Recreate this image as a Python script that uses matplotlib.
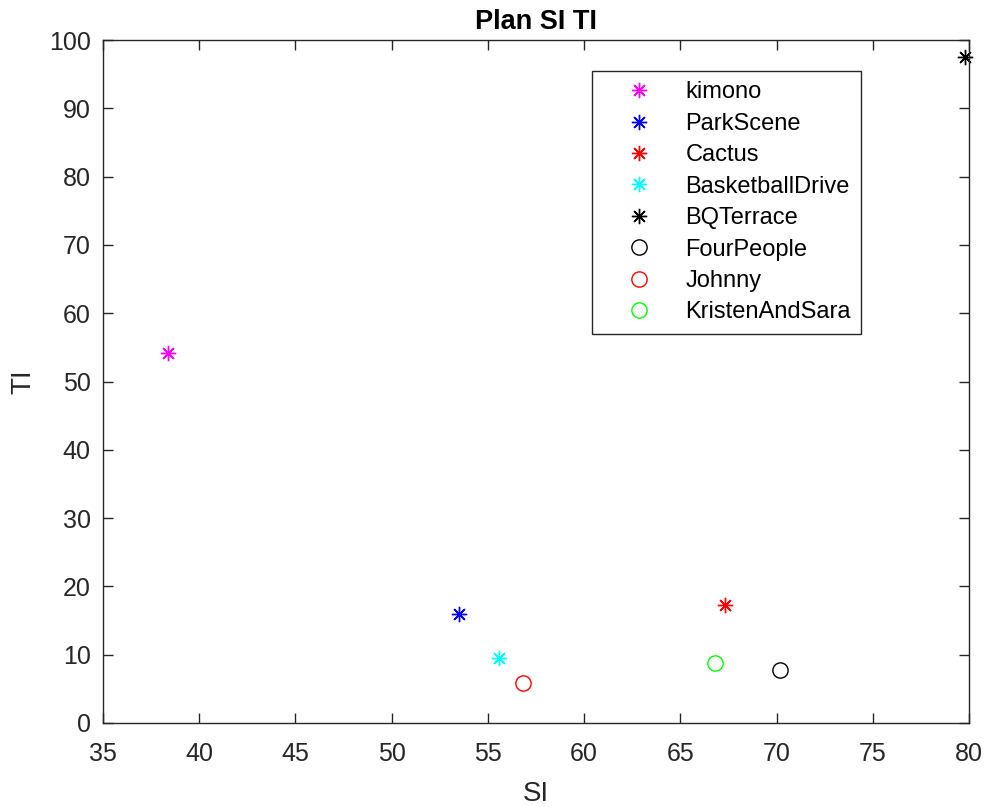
import matplotlib.pyplot as plt

plt.rcParams['font.family'] = ['Liberation Sans', 'DejaVu Sans']

# sequences: name, SI, TI
names = ['kimono', 'ParkScene', 'Cactus', 'BasketballDrive', 'BQTerrace',
         'FourPeople', 'Johnny', 'KristenAndSara']
si = [38.4, 53.5, 67.3, 55.6, 79.8, 70.2, 56.8, 66.8]
ti = [54.2, 16.0, 17.3, 9.5, 97.5, 7.8, 5.8, 8.8]
colors = ['#FF00FF', '#0000FF', '#FF0000', '#00FFFF', '#000000',
          '#000000', '#FF0000', '#00FF00']
markers = ['*', '*', '*', '*', '*', 'o', 'o', 'o']

fig = plt.figure(figsize=(9.87, 8.07), dpi=100)
ax = fig.add_axes([0.1044, 0.1041, 0.8774, 0.8463])

for n, x, y, c, m in zip(names, si, ti, colors, markers):
    if m == '*':
        ax.plot(x, y, linestyle='none', marker=(8, 2, 0), markersize=11,
                markeredgecolor=c, markeredgewidth=1.0, color=c, label=n,
                clip_on=False)
    else:
        ax.plot(x, y, linestyle='none', marker='o', markersize=11,
                markerfacecolor='none', markeredgecolor=c,
                markeredgewidth=1.0, label=n, clip_on=False)

ax.set_xlim(35, 80)
ax.set_ylim(0, 100)
ax.set_xticks(range(35, 81, 5))
ax.set_yticks(range(0, 101, 10))

axcol = '#262626'
for s in ax.spines.values():
    s.set_color(axcol)
    s.set_linewidth(1.0)
ax.tick_params(direction='in', length=7, width=1.0, colors=axcol,
               labelsize=18, top=True, right=True)
ax.tick_params(axis='x', pad=13.5)
ax.tick_params(axis='y', pad=9)

ax.set_xlabel('SI', fontsize=20, color=axcol, labelpad=11)
ax.set_ylabel('TI', fontsize=20, color=axcol, labelpad=9)
ax.set_title('Plan SI TI', fontsize=19.5, fontweight='bold', pad=8)

leg = ax.legend(loc='upper left', bbox_to_anchor=(0.565, 0.955),
                borderaxespad=0, fancybox=False, framealpha=1,
                edgecolor=axcol, fontsize=17, labelspacing=0.40,
                handlelength=3.07, handletextpad=0.42, borderpad=0.45)
leg.get_frame().set_linewidth(1.0)

fig.savefig('out.png', dpi=100)
